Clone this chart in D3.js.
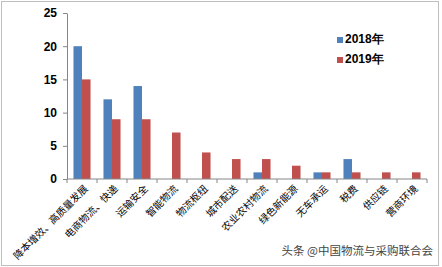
<!DOCTYPE html>
<html><head><meta charset="utf-8">
<script src="https://cdn.jsdelivr.net/npm/d3@7/dist/d3.min.js"></script>
<style>
html,body{margin:0;padding:0;background:#fff;}
svg{display:block;}
</style></head>
<body>
<svg id="c" width="442" height="267"></svg>
<script>
const categories = ["降本增效、高质量发展","电商物流、快递","运输安全","智能物流","物流枢纽","城市配送","农业农村物流","绿色新能源","无车承运","税费","供应链","营商环境"];
const series = ["2018年","2019年"];
const values2018 = [20,12,14,0,0,0,1,0,1,3,0,0];
const values2019 = [15,9,9,7,4,3,3,2,1,1,1,1];
const yTicks = [0,5,10,15,20,25];
const colors = ["#4F81BD","#C0504D"];

const svg = d3.select("#c");
svg.append("rect").attr("x",1.5).attr("y",1.5).attr("width",437).attr("height",264)
  .attr("fill","#fff").attr("stroke","#BFBFBF").attr("stroke-width",1);

const x = d3.scaleBand().domain(categories).range([67,427]).paddingInner(0).paddingOuter(0);
const x1 = d3.scaleBand().domain(series).range([0,x.bandwidth()]).paddingInner(0).paddingOuter(0.76);
const y = d3.scaleLinear().domain([0,25]).range([179,13]);

const data = categories.map((c,i)=>({c, v:[values2018[i],values2019[i]]}));

// bars
const g = svg.append("g");
data.forEach(d=>{
  series.forEach((s,j)=>{
    if(d.v[j]>0){
      g.append("rect")
        .attr("x", x(d.c)+x1(s))
        .attr("y", y(d.v[j]))
        .attr("width", x1.bandwidth())
        .attr("height", y(0)-y(d.v[j]))
        .attr("fill", colors[j]);
    }
  });
});

// y axis
const ya = svg.append("g").attr("transform","translate(67,0)")
  .call(d3.axisLeft(y).tickValues(yTicks).tickSize(4).tickPadding(6).tickSizeOuter(0));
ya.select(".domain").attr("stroke","#868686");
ya.selectAll(".tick line").attr("stroke","#868686");
ya.selectAll("text").attr("font-family","'Liberation Sans', Arial, sans-serif")
  .attr("font-weight","bold").attr("font-size","12px").attr("fill","#000");

// x axis: baseline and boundary ticks
const xa = svg.append("g").attr("transform",`translate(0,${y(0)})`);
xa.append("line").attr("x1",x.range()[0]).attr("x2",x.range()[1]).attr("stroke","#868686");
const bounds = categories.map(c=>x(c)).concat([x.range()[1]]);
xa.selectAll("line.tk").data(bounds).enter().append("line")
  .attr("x1",d=>d).attr("x2",d=>d).attr("y1",0).attr("y2",4).attr("stroke","#868686");
xa.selectAll("text").data(categories).enter().append("text")
  .attr("transform",d=>`translate(${x(d)+x.bandwidth()/2+4},${8}) rotate(-45)`)
  .attr("text-anchor","end").attr("dy","0.35em")
  .attr("font-family","'Noto Sans CJK SC', sans-serif").attr("font-size","10px")
  .attr("fill","#000").text(d=>d);

// legend
const lg = svg.append("g");
series.forEach((s,j)=>{
  lg.append("rect").attr("x",337).attr("y",37+j*20).attr("width",6).attr("height",6).attr("fill",colors[j]);
  lg.append("text").attr("x",345).attr("y",43+j*20)
    .attr("font-family","'Liberation Sans', Arial, sans-serif").attr("font-weight","bold")
    .attr("font-size","12px").attr("fill","#000").text(s);
});

// watermark
svg.append("text").attr("x",433).attr("y",255).attr("text-anchor","end")
  .attr("font-family","'Noto Sans CJK SC', sans-serif").attr("font-size","11.5px")
  .attr("fill","#444").text("头条 @中国物流与采购联合会");
</script>
</body></html>
